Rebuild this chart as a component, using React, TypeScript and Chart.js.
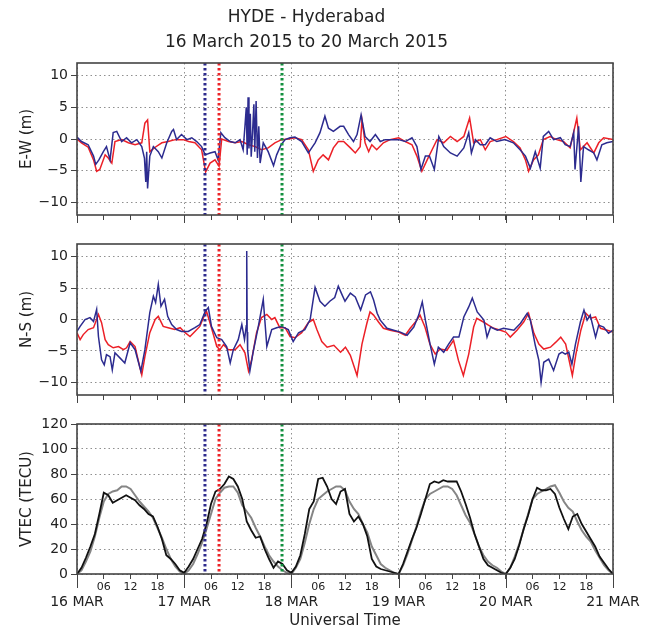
import React, { useEffect, useRef } from 'react';
import { Chart, registerables } from 'chart.js';

Chart.register(...registerables);
Chart.defaults.font.family = "'DejaVu Sans', sans-serif";
Chart.defaults.color = '#222';

// ---------- text ----------
const titleLines = ['HYDE - Hyderabad', '16 March 2015 to 20 March 2015'];
const dayLabels = ['16 MAR', '17 MAR', '18 MAR', '19 MAR', '20 MAR', '21 MAR'];
const hourLabels = ['06', '12', '18'];
const xTitle = 'Universal Time';
const dispTicks = [-10, -5, 0, 5, 10];
const vtecTicks = [0, 20, 40, 60, 80, 100, 120];

// ---------- event markers (hours since 16 MAR 00 UT) ----------
const eventHours = [28.65, 31.8, 45.9];
const eventColors = ['#2d2a8c', '#ec2327', '#13903f'];

// ---------- E-W (m) ----------
const ewRedT = [0, 1, 2.5, 3.7, 4.4, 5.1, 6.3, 7, 7.8, 8.5, 10, 11.5, 13, 14.5, 15.2, 15.8, 16.3, 17.5, 19, 20.4, 22, 23.8, 25, 26.4, 27.9, 28.8, 29.8, 30.9, 31.8, 32.4, 33.9, 35.4, 36.9, 38.4, 39.9, 41.3, 42.8, 44.3, 45.8, 47.3, 48.8, 50.3, 51.8, 52.9, 54, 55.1, 56.3, 57.4, 58.5, 59.7, 61.2, 62.3, 63.4, 63.8, 64.5, 65.3, 66, 67.1, 68.6, 70.1, 72, 73.5, 75, 76.1, 77.2, 78.4, 79.5, 80.6, 82.1, 83.6, 85.1, 86.6, 87.9, 88.8, 90.3, 91.4, 92.5, 94, 96, 97.7, 99.2, 100.4, 101.1, 102.2, 103.3, 104.4, 105.9, 107.4, 108.9, 110.4, 111.9, 112.7, 114.2, 115.7, 116.8, 117.9, 120];
const ewRedV = [0, -0.6, -1.3, -3.3, -5.1, -4.8, -2.5, -3, -3.8, -0.4, -0.1, -0.6, -0.9, -0.6, 2.5, 3, -2, -1.3, -0.6, -0.4, -0.1, -0.1, -0.4, -0.6, -1.7, -5.2, -3.8, -3.3, -4.3, 0, -0.4, -0.6, -0.4, -0.9, -1.2, -1.7, -1.4, -0.6, -0.1, 0, 0.2, -0.1, -1.7, -5.1, -3.3, -2.5, -3.3, -1.4, -0.4, -0.4, -1.4, -2.2, -1.2, 3, -0.6, -2, -0.9, -1.7, -0.6, -0.1, 0.2, -0.4, -0.9, -2.7, -5.1, -3.3, -1.7, -0.1, -0.6, 0.4, -0.4, 0.4, 3.3, -0.6, -0.1, -1.7, -0.4, -0.1, 0.4, -0.4, -1.4, -3.3, -5.1, -3.3, -2.5, -0.1, 0.4, -0.1, -0.4, -1.4, 3.3, -1.7, -0.6, -2.2, -0.6, 0.2, -0.1];

const ewBlueT = [0, 1, 2.5, 3.7, 4.2, 4.9, 5.9, 6.6, 7.4, 8.1, 8.9, 10, 11.1, 12.2, 13.4, 14.5, 15.1, 15.4, 15.6, 15.8, 16.3, 17.1, 18.2, 19, 20.1, 21.2, 21.6, 22.3, 23.4, 24.6, 25.7, 26.8, 27.9, 28.7, 29.8, 30.9, 31.6, 32.2, 33.1, 34.3, 35.4, 36.5, 37.2, 37.6, 37.9, 38.1, 38.3, 38.5, 38.8, 39, 39.3, 39.6, 39.8, 40.1, 40.4, 40.7, 41, 41.7, 42.8, 44, 44.7, 45.7, 46.6, 47.7, 48.8, 50.3, 51.8, 53.3, 54.4, 55.5, 56.3, 57.4, 58.9, 59.7, 60.8, 61.9, 62.7, 63.6, 64.5, 65.6, 66.8, 67.9, 69, 70.5, 72, 73.5, 75, 76.1, 77, 78, 78.9, 80, 81, 82.1, 83.6, 85.1, 86.6, 87.7, 88.3, 89.2, 90.3, 91.4, 92.5, 94, 95.8, 97.7, 99.2, 100.4, 101.5, 102.6, 103.7, 104.4, 105.6, 106.7, 108.2, 109.3, 110.4, 111.2, 111.5, 112.3, 112.8, 113.4, 114.5, 115.7, 116.4, 117.5, 118.6, 120];
const ewBlueV = [0.3, -0.4, -0.9, -2.7, -4, -3.3, -2, -1.2, -3.3, 1, 1.2, -0.4, 0.2, -0.6, -0.1, -1.2, -3, -6.8, -2, -7.8, -2.7, -1.2, -2, -3, -0.6, 1.2, 1.5, -0.1, 0.7, -0.1, 0.2, -0.4, -1.2, -2.5, -2.2, -2, -3.3, 1, 0.2, -0.4, -0.6, -0.1, -1.7, 2, 5, -2.5, 6.6, -1.5, 4, -2.8, 1, 5.5, -2, 6, -3, 2, -3.8, -0.6, -2, -4.2, -2.5, -0.9, -0.1, 0.2, 0.3, -0.4, -2.2, -0.6, 1, 3.6, 1.7, 1.2, 2, 2, 0.7, -0.4, 0.7, 3.8, 0.4, -0.4, 0.7, -0.4, -0.1, -0.1, -0.1, -0.4, 0.2, -1.2, -4.8, -2.7, -2.7, -4.8, 0.4, -1.2, -2.2, -2.7, -1.4, 1, -2.2, -0.1, -0.9, -0.9, 0.2, -0.4, -0.1, -0.6, -1.7, -2.7, -4.6, -2, -4.6, 0.4, 1.2, -0.1, 0.2, -0.9, -1.2, 1, -4.8, 2, -6.8, -1.2, -1.7, -2.2, -3.3, -0.9, -0.6, -0.4];

// ---------- N-S (m) ----------
const nsRedT = [0, 0.7, 1.4, 2.5, 3.7, 4.8, 5.5, 6.3, 7, 8.1, 9.3, 10.4, 11.1, 11.9, 13, 14.1, 14.5, 15.2, 16.3, 17.5, 18.2, 19.3, 20.4, 21.9, 23.1, 24.2, 25.3, 26.4, 27.5, 28.3, 29, 30.1, 31.3, 32, 32.8, 33.9, 35.4, 36.5, 37.6, 38.4, 39.1, 40.2, 41.3, 42.5, 43.6, 44.3, 45.4, 46.6, 47.7, 48.8, 50.3, 51.8, 52.9, 53.7, 54.8, 56, 57.5, 59, 60.1, 61.2, 62.7, 63.8, 64.9, 65.6, 66.4, 67.5, 68.6, 70.1, 72, 73.5, 74.6, 76.1, 76.8, 77.9, 79, 80.2, 81.3, 82.8, 84.3, 85.4, 86.5, 87.7, 88.8, 89.5, 91, 92.1, 93.3, 94.8, 96, 97, 98.5, 100, 101.1, 102.3, 103.4, 104.5, 106, 107.2, 108.3, 109.4, 110.9, 111.7, 112.8, 113.9, 115, 116.1, 117.2, 118.7, 120];
const nsRedV = [-2.1, -3.2, -2.4, -1.6, -1.3, 0.8, -0.5, -3.2, -4, -4.5, -4.3, -4.8, -4.5, -3.5, -4.3, -7.7, -8.8, -5.9, -2.1, 0, 0.5, -1.1, -1.3, -1.6, -1.3, -2.1, -2.7, -1.9, -1.1, 0.3, 1.3, -1.3, -4.3, -4.8, -4, -4.8, -4.8, -4, -5.3, -8.2, -6.4, -2.1, 0.3, 0.8, 0, 0.3, -1.3, -1.3, -2.7, -2.9, -2.1, -0.5, 0, -1.6, -3.5, -4.4, -4.1, -5.2, -4.4, -5.7, -8.9, -3.9, -0.6, 1.2, 0.7, -0.4, -1.4, -1.7, -2, -2.5, -1.4, -0.1, 0.7, -1.2, -3.9, -5.5, -4.7, -4.9, -3.3, -6.5, -8.9, -5.5, -1.2, 0.2, -0.4, -0.9, -1.4, -1.7, -2, -2.8, -1.7, -0.4, 1, -2.2, -3.9, -4.7, -4.4, -3.6, -2.8, -3.9, -8.9, -5.5, -1.7, 1, 0.2, 0.4, -1.4, -1.7, -2];

const nsBlueT = [0, 0.7, 1.8, 2.9, 3.7, 4.4, 4.8, 5.5, 6.1, 6.6, 7.4, 7.9, 8.5, 9.6, 10.7, 11.9, 13, 14.3, 15.2, 16.3, 17.1, 17.6, 18.2, 18.8, 19.6, 20.3, 21.2, 22.3, 23.4, 24.9, 26.4, 27.5, 28.7, 29.4, 30.1, 31.3, 32.4, 33.5, 34.3, 35, 36.1, 36.9, 37.5, 37.9, 38, 38.1, 38.2, 38.7, 39.4, 40.6, 41.7, 42.5, 43.6, 44.7, 45.8, 47.3, 48.4, 49.6, 51, 52.2, 53.3, 54.4, 55.5, 56.6, 57.7, 58.5, 59.3, 60, 61.2, 62.3, 63.5, 64.6, 65.7, 66.4, 67.2, 67.9, 69.4, 70.9, 72.4, 73.9, 75.4, 76.5, 77.3, 78, 79.1, 80, 80.9, 82.1, 83.2, 84.3, 85.5, 86.6, 87.7, 88.5, 89.6, 91.1, 91.8, 92.6, 94.1, 95.5, 97.8, 99.3, 100.8, 101.5, 102.6, 103.4, 103.9, 104.5, 105.6, 106.7, 107.9, 108.6, 109.3, 110.1, 110.8, 111.6, 112.7, 113.5, 114.2, 114.9, 116.1, 116.8, 117.9, 119, 120];
const nsBlueV = [-1.9, -1.1, 0, 0.3, -0.3, 1.6, -2.7, -6.4, -7.2, -5.6, -5.9, -8, -5.3, -6.1, -6.9, -3.7, -4.8, -8.2, -4.8, 1.1, 3.7, 2.7, 5.6, 2.1, 3.2, 0.5, -0.8, -1.6, -1.9, -1.9, -1.3, -0.8, 1.3, 1.9, -1.1, -2.9, -3.2, -4.3, -6.9, -4.8, -3.2, -0.8, -3.2, -1, 10.9, -2, -4.8, -8.2, -5.3, -1.1, 3.2, -4.3, -1.6, -1.3, -1.1, -1.6, -3.5, -2.1, -1.6, 0, 5.1, 2.9, 2.1, 2.9, 3.5, 5.3, 4, 2.9, 4.2, 3.6, 1.5, 3.9, 4.4, 3.1, 1, -0.1, -1.4, -1.7, -2, -2.5, -1.2, 0.7, 2.8, -0.1, -4.1, -7.1, -4.4, -5.2, -3.9, -2.8, -2.8, 0.4, 2, 3.4, 1.2, -0.1, -2.8, -1.2, -1.7, -1.4, -1.7, -0.6, 1, -0.1, -4.1, -6.5, -10, -6.8, -6.3, -8.1, -5.5, -5.2, -5.5, -5.2, -7.1, -3.9, -0.4, 1.5, -0.1, 0.7, -2.8, -0.9, -1.2, -2.2, -1.7];

// ---------- VTEC (TECU), hourly from 16 MAR 00 UT ----------
const vtecBlack = [
  0, 5, 13, 22, 32, 48, 65, 63, 57, 59, 61, 63, 61, 59, 55, 52, 48, 46, 38, 28, 15, 12, 8, 3,
  1, 6, 12, 20, 28, 40, 56, 66, 68, 72, 78, 76, 70, 60, 42, 35, 29, 30, 20, 12, 5, 10, 8, 3,
  1, 6, 15, 32, 52, 58, 76, 77, 70, 60, 56, 66, 68, 48, 42, 46, 40, 30, 12, 6, 4, 3, 2, 1,
  0, 8, 18, 28, 37, 48, 60, 72, 74, 73, 75, 74, 74, 74, 66, 56, 45, 32, 22, 12, 7, 5, 3, 1,
  0, 5, 12, 23, 36, 47, 60, 69, 67, 67, 68, 64, 53, 44, 36, 46, 48, 40, 34, 28, 22, 14, 9, 4, 0,
];
const vtecGray = [
  0, 3, 10, 18, 30, 45, 58, 64, 66, 67, 70, 70, 68, 63, 58, 54, 50, 45, 37, 29, 20, 12, 6, 2,
  0, 3, 8, 16, 25, 36, 48, 60, 65, 69, 70, 70, 65, 55, 50, 45, 37, 30, 22, 15, 10, 6, 3, 1,
  0, 5, 12, 25, 40, 52, 60, 63, 66, 68, 70, 70, 67, 58, 52, 48, 40, 33, 22, 15, 8, 5, 3, 1,
  0, 7, 16, 27, 38, 50, 60, 64, 66, 68, 70, 70, 68, 63, 55, 47, 41, 32, 22, 15, 10, 7, 5, 2,
  0, 5, 14, 24, 36, 48, 60, 64, 66, 68, 70, 71, 65, 58, 53, 50, 42, 35, 30, 26, 19, 13, 7, 3, 0,
];

// ---------- helpers ----------
const pts = (t: number[], v: number[]) => t.map((x, i) => ({ x, y: v[i] }));
const hourly = (v: number[]) => v.map((y, i) => ({ x: i, y }));
const minus = (v: number) => (v < 0 ? '\u2212' + Math.abs(v) : String(v));

const decor = {
  id: 'decor',
  afterDatasetsDraw(chart: any) {
    const { ctx, chartArea: a } = chart;
    const x = chart.scales.x;
    ctx.save();
    ctx.lineWidth = 3;
    ctx.setLineDash([2.5, 2.5]);
    eventHours.forEach((h, i) => {
      const px = x.getPixelForValue(h);
      ctx.strokeStyle = eventColors[i];
      ctx.beginPath();
      ctx.moveTo(px, a.top);
      ctx.lineTo(px, a.bottom);
      ctx.stroke();
    });
    ctx.restore();
  },
  afterDraw(chart: any, _args: any, opts: any) {
    const { ctx, chartArea: a } = chart;
    const x = chart.scales.x;
    ctx.save();
    ctx.strokeStyle = '#444';
    ctx.lineWidth = 1;
    x.ticks.forEach((t: any) => {
      if (t.value % 24 === 0) {
        const px = Math.round(x.getPixelForValue(t.value)) + 0.5;
        ctx.beginPath();
        ctx.moveTo(px, a.bottom);
        ctx.lineTo(px, a.bottom + opts.dayTick);
        ctx.stroke();
      }
    });
    ctx.lineWidth = 1.6;
    ctx.strokeRect(a.left, a.top, a.right - a.left, a.bottom - a.top);
    ctx.restore();
  },
};

type PanelCfg = {
  top: number;
  height: number;
  padTop: number;
  xAxisHeight: number;
  yTitle: string;
  yMin: number;
  yMax: number;
  yTicks: number[];
  datasets: any[];
  showTitle: boolean;
  showXLabels: boolean;
  dayTick: number;
};

function Panel({ cfg }: { cfg: PanelCfg }) {
  const ref = useRef<HTMLCanvasElement>(null);
  useEffect(() => {
    const canvas = ref.current!;
    const isDay = (c: any) => c && c.tick && c.tick.value % 24 === 0;
    const chart = new Chart(canvas, {
      type: 'line',
      data: { datasets: cfg.datasets },
      options: {
        responsive: false,
        animation: false,
        maintainAspectRatio: false,
        layout: { padding: { left: 0, right: 37, top: cfg.padTop, bottom: 0 } },
        plugins: {
          legend: { display: false },
          tooltip: { enabled: false },
          title: cfg.showTitle
            ? {
                display: true,
                text: titleLines,
                color: '#222',
                font: { size: 17, weight: 'normal', lineHeight: 1.45 },
                padding: { top: 5.7, bottom: 8 },
              }
            : { display: false },
          decor: { dayTick: cfg.dayTick },
        } as any,
        scales: {
          x: {
            type: 'linear',
            min: 0,
            max: 120,
            afterFit: (s: any) => {
              s.height = cfg.xAxisHeight;
            },
            ticks: {
              stepSize: 6,
              autoSkip: false,
              maxRotation: 0,
              minRotation: 0,
              padding: 2,
              color: '#222',
              font: (c: any) => (isDay(c) ? { size: 14, lineHeight: 1.0 } : { size: 11, lineHeight: 1.2 }),
              callback: (v: any) => {
                if (!cfg.showXLabels) return '';
                const h = Number(v);
                if (h % 24 === 0) return ['', dayLabels[h / 24]];
                return hourLabels[(h % 24) / 6 - 1];
              },
            },
            grid: {
              color: (c: any) => (isDay(c) ? '#8f8f8f' : 'rgba(0,0,0,0)'),
              lineWidth: 1,
              drawTicks: true,
              tickLength: 5,
              tickColor: '#444',
              tickWidth: 1,
            },
            border: { display: false, dash: [1.5, 3] },
            title: cfg.showXLabels
              ? {
                  display: true,
                  text: xTitle,
                  color: '#222',
                  font: { size: 15, lineHeight: 1.0 },
                  padding: { top: 0, bottom: 0.5 },
                }
              : { display: false },
          },
          y: {
            min: cfg.yMin,
            max: cfg.yMax,
            afterFit: (s: any) => {
              s.width = 77;
            },
            afterBuildTicks: (s: any) => {
              s.ticks = cfg.yTicks.map((v) => ({ value: v }));
            },
            ticks: {
              padding: 3,
              color: '#222',
              font: { size: 14 },
              callback: (v: any) => minus(Number(v)),
            },
            grid: {
              color: '#8f8f8f',
              lineWidth: 1,
              drawTicks: true,
              tickLength: 6,
              tickColor: '#444',
              tickWidth: 1,
            },
            border: { display: false, dash: [1.5, 3] },
            title: {
              display: true,
              text: cfg.yTitle,
              color: '#222',
              font: { size: 15, lineHeight: 1.2 },
              padding: { top: 18, bottom: 0 },
            },
          },
        },
      } as any,
      plugins: [decor],
    });
    return () => chart.destroy();
  }, []);
  return (
    <canvas
      ref={ref}
      width={650}
      height={cfg.height}
      style={{ position: 'absolute', left: 0, top: cfg.top, width: 650, height: cfg.height, display: 'block' }}
    />
  );
}

const RED = '#ec2027';
const BLUE = '#2c2b8f';

const panels: PanelCfg[] = [
  {
    top: 0,
    height: 229,
    padTop: 0,
    xAxisHeight: 14,
    yTitle: 'E-W (m)',
    yMin: -12,
    yMax: 12,
    yTicks: dispTicks,
    showTitle: true,
    showXLabels: false,
    dayTick: 8,
    datasets: [
      { data: pts(ewBlueT, ewBlueV), borderColor: BLUE, borderWidth: 1.5, pointRadius: 0, tension: 0 },
      { data: pts(ewRedT, ewRedV), borderColor: RED, borderWidth: 1.5, pointRadius: 0, tension: 0 },
    ],
  },
  {
    top: 229,
    height: 181,
    padTop: 15,
    xAxisHeight: 15,
    yTitle: 'N-S (m)',
    yMin: -12,
    yMax: 12,
    yTicks: dispTicks,
    showTitle: false,
    showXLabels: false,
    dayTick: 8,
    datasets: [
      { data: pts(nsBlueT, nsBlueV), borderColor: BLUE, borderWidth: 1.5, pointRadius: 0, tension: 0 },
      { data: pts(nsRedT, nsRedV), borderColor: RED, borderWidth: 1.5, pointRadius: 0, tension: 0 },
    ],
  },
  {
    top: 410,
    height: 219,
    padTop: 14,
    xAxisHeight: 55,
    yTitle: 'VTEC (TECU)',
    yMin: 0,
    yMax: 120,
    yTicks: vtecTicks,
    showTitle: false,
    showXLabels: true,
    dayTick: 14,
    datasets: [
      { data: hourly(vtecBlack), borderColor: '#111111', borderWidth: 1.8, pointRadius: 0, tension: 0 },
      { data: hourly(vtecGray), borderColor: '#858585', borderWidth: 2, pointRadius: 0, tension: 0 },
    ],
  },
];

export default function App() {
  return (
    <div style={{ position: 'absolute', left: 0, top: 0, width: 650, height: 629, background: '#fff' }}>
      {panels.map((p, i) => (
        <Panel key={i} cfg={p} />
      ))}
    </div>
  );
}
